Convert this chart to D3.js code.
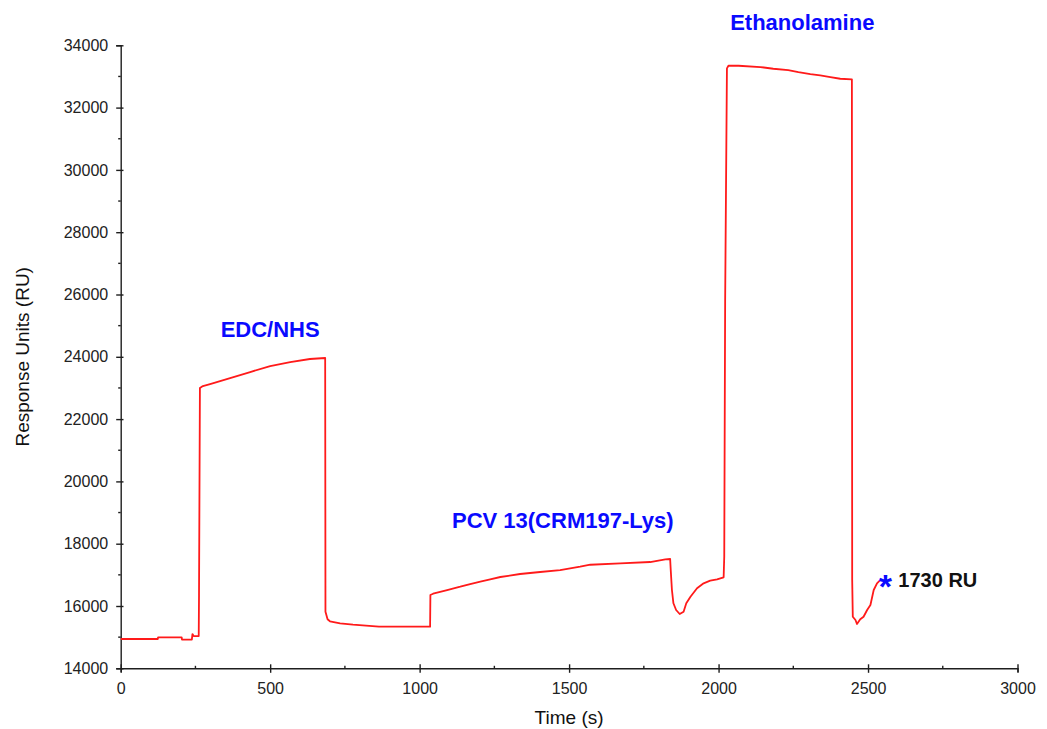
<!DOCTYPE html>
<html>
<head>
<meta charset="utf-8">
<script src="https://cdn.jsdelivr.net/npm/d3@7"></script>
<style>
  body { margin: 0; background: #fff; }
  svg { display: block; font-family: Arial, "Liberation Sans", sans-serif; }
</style>
</head>
<body>
<svg id="chart" width="1047" height="729"></svg>
<script>
// sensorgram readings, time in seconds and response in RU
const timeSec = [
  0, 124, 125, 204, 205, 238, 240, 244, 261, 262, 265, 275, 299, 366, 433, 500, 567, 633, 684,
  685, 692, 700, 734, 777, 864, 1035,
  1036, 1045, 1092, 1136, 1169, 1203, 1236, 1270, 1336, 1403, 1470, 1537, 1571, 1671, 1771, 1822, 1838,
  1840, 1844, 1849, 1858, 1870, 1883, 1892, 1906, 1928, 1950, 1972, 1995, 2017,
  2019, 2022, 2028, 2033, 2067, 2140, 2183, 2233, 2267, 2307, 2340, 2374, 2407, 2446,
  2447, 2449, 2458, 2463, 2474, 2485, 2497, 2508, 2519, 2530, 2539
];
const responseRU = [
  14940, 14940, 14995, 14995, 14920, 14920, 15100, 15036, 15036, 16350, 22998, 23062, 23126, 23319, 23511, 23704, 23832, 23929, 23961,
  15817, 15573, 15509, 15445, 15400, 15335, 15335,
  16353, 16395, 16513, 16619, 16706, 16780, 16857, 16931, 17027, 17091, 17155, 17261, 17325, 17370, 17412, 17499, 17509,
  17155, 16513, 16087, 15871, 15743, 15817, 16087, 16298, 16568, 16729, 16812, 16857, 16921,
  17580, 25770, 33260, 33344, 33344, 33302, 33247, 33205, 33141, 33077, 33035, 32981, 32926, 32907,
  16834, 15656, 15550, 15422, 15573, 15656, 15871, 16032, 16513, 16729, 16812
];

// step labels (x in seconds, y in RU where the text baseline sits)
const stepLabels = ["EDC/NHS", "PCV 13(CRM197-Lys)", "Ethanolamine"];
const stepLabelX = [500, 1479, 2280];
const stepLabelY = [24625, 18500, 34490];

// final immobilisation level marker
const finalMarkX = [2558];
const finalMarkY = [16870];
const finalMarkText = ["1730 RU"];

// tick values
const xTicks = [0, 500, 1000, 1500, 2000, 2500, 3000];
const xMinorTicks = [250, 750, 1250, 1750, 2250, 2750];
const yTicks = [14000, 16000, 18000, 20000, 22000, 24000, 26000, 28000, 30000, 32000, 34000];
const yMinorTicks = [15000, 17000, 19000, 21000, 23000, 25000, 27000, 29000, 31000, 33000];

const svg = d3.select("#chart");
const width = 1047, height = 729;
const margin = { top: 45.3, right: 29.5, bottom: 60.7, left: 120.7 };

const x = d3.scaleLinear().domain([0, 3000]).range([margin.left, width - margin.right]);
const y = d3.scaleLinear().domain([14000, 34000]).range([height - margin.bottom, margin.top]);

const axisColor = "#1e1e1e";

// X axis -------
const xAxis = svg.append("g")
  .attr("transform", `translate(0, ${height - margin.bottom})`)
  .call(d3.axisBottom(x).tickValues(xTicks).tickSize(4).tickPadding(10).tickFormat(d3.format("d")));

// major ticks cross the axis line
xAxis.selectAll(".tick line").attr("y1", -4).attr("y2", 4.5);
xAxis.selectAll(".tick text")
  .attr("font-size", 16)
  .attr("fill", "#222")
  .attr("font-family", "Arial, 'Liberation Sans', sans-serif");

// minor ticks sit above the line
xAxis.selectAll(".minor")
  .data(xMinorTicks)
  .enter().append("line")
  .attr("class", "minor")
  .attr("x1", d => x(d)).attr("x2", d => x(d))
  .attr("y1", -2.5).attr("y2", 0)
  .attr("stroke", axisColor);

// Y axis -------
const yAxis = svg.append("g")
  .attr("transform", `translate(${margin.left}, 0)`)
  .call(d3.axisLeft(y).tickValues(yTicks).tickSize(4.5).tickPadding(8).tickFormat(d3.format("d")));

yAxis.selectAll(".tick line").attr("x1", -4.5).attr("x2", 2.8);
yAxis.selectAll(".tick text")
  .attr("font-size", 16)
  .attr("fill", "#222")
  .attr("font-family", "Arial, 'Liberation Sans', sans-serif");

// minor ticks on the outside of the y axis
yAxis.selectAll(".minor")
  .data(yMinorTicks)
  .enter().append("line")
  .attr("class", "minor")
  .attr("x1", -2.5).attr("x2", 0)
  .attr("y1", d => y(d)).attr("y2", d => y(d))
  .attr("stroke", axisColor);

[xAxis, yAxis].forEach(a => {
  a.select(".domain").attr("stroke", axisColor).attr("stroke-width", 1.4);
  a.selectAll(".tick line, .minor").attr("stroke", axisColor).attr("stroke-width", 1.4);
});

// Axis titles -------
svg.append("text")
  .attr("x", (margin.left + width - margin.right) / 2)
  .attr("y", 724)
  .attr("text-anchor", "middle")
  .attr("font-size", 19)
  .attr("fill", "#111")
  .text("Time (s)");

svg.append("text")
  .attr("transform", `translate(29, ${(margin.top + height - margin.bottom) / 2}) rotate(-90)`)
  .attr("text-anchor", "middle")
  .attr("font-size", 19)
  .attr("fill", "#111")
  .text("Response Units (RU)");

// The sensorgram line -------
const points = timeSec.map((t, i) => ({ t: t, v: responseRU[i] }));

const line = d3.line()
  .x(d => x(d.t))
  .y(d => y(d.v));

svg.append("path")
  .datum(points)
  .attr("fill", "none")
  .attr("stroke", "#ff1a1a")
  .attr("stroke-width", 1.8)
  .attr("stroke-linejoin", "round")
  .attr("d", line);

// Step labels -------
svg.selectAll(".step-label")
  .data(stepLabels)
  .enter().append("text")
  .attr("class", "step-label")
  .attr("x", (d, i) => x(stepLabelX[i]))
  .attr("y", (d, i) => y(stepLabelY[i]))
  .attr("text-anchor", "middle")
  .attr("font-size", 22)
  .attr("font-weight", "bold")
  .attr("fill", "#0a0aff")
  .text(d => d);

// Final level: blue asterisk plus the RU text
svg.append("text")
  .attr("x", x(finalMarkX[0]))
  .attr("y", y(finalMarkY[0]) + 19)
  .attr("text-anchor", "middle")
  .attr("font-size", 34)
  .attr("font-weight", "bold")
  .attr("fill", "#0a0aff")
  .text("*");

svg.append("text")
  .attr("x", x(finalMarkX[0]) + 13)
  .attr("y", y(finalMarkY[0]) + 8)
  .attr("font-size", 20)
  .attr("font-weight", "bold")
  .attr("fill", "#111")
  .text(finalMarkText[0]);
</script>
</body>
</html>
